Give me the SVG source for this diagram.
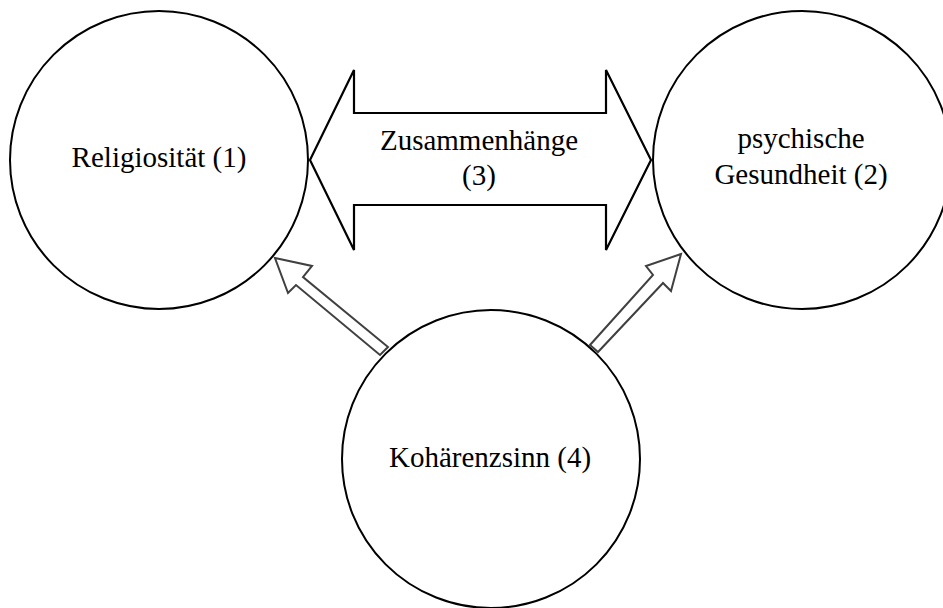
<svg xmlns="http://www.w3.org/2000/svg" width="943" height="608" viewBox="0 0 943 608">
<style>
.node{fill:none;stroke:#000;stroke-width:2}
.big{fill:none;stroke:#000;stroke-width:2.2;stroke-linejoin:miter}
.small{fill:#fff;stroke:#404040;stroke-width:2;stroke-linejoin:miter}
</style>
<rect width="943" height="608" fill="#fff"/>
<g font-family="Liberation Serif, Times New Roman, serif" font-size="29" fill="#000" text-anchor="middle">
<g id="connectors">
<polygon class="big" points="310,160 354,70 354,113 606,113 606,70 651,160 606,250 606,205 354,205 354,250"/>
<polygon class="small" points="275,258 312,266 303,277 388,347 380,355 296,285 288,293"/>
<polygon class="small" points="681,254 646,266 653,275 590,345 598,352 663,283 671,291"/>
<text x="479" y="150">Zusammenhänge</text>
<text x="479" y="185">(3)</text>
</g>
<g id="n1">
<circle class="node" cx="159" cy="160" r="149"/>
<text x="159" y="167">Religiosität (1)</text>
</g>
<g id="n2">
<circle class="node" cx="802" cy="160" r="149"/>
<text x="801" y="148">psychische</text>
<text x="801" y="184">Gesundheit (2)</text>
</g>
<g id="n4">
<circle class="node" cx="491" cy="459" r="149"/>
<text x="490" y="467">Kohärenzsinn (4)</text>
</g>
</g>
</svg>
